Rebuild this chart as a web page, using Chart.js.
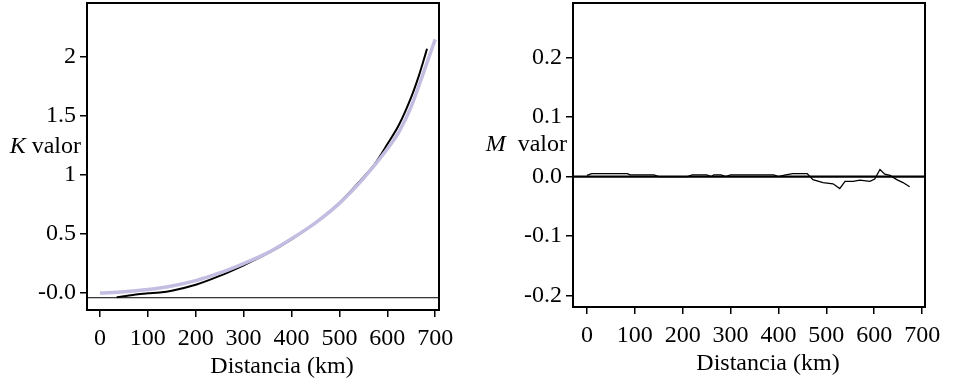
<!DOCTYPE html>
<html>
<head>
<meta charset="utf-8">
<script src="https://cdn.jsdelivr.net/npm/chart.js@4"></script>
<style>
  html, body { margin: 0; padding: 0; background: #fff; }
  .box { position: absolute; top: 0; width: 484px; height: 391px; }
  #kbox { left: 0; }
  #mbox { left: 484px; }
</style>
</head>
<body>
<div class="box" id="kbox"><canvas id="kchart"></canvas></div>
<div class="box" id="mbox"><canvas id="mchart"></canvas></div>
<script>
// K function: observed (black) and expected (grey)
var kObsDist = [35, 50, 75, 100, 125, 150, 200, 250, 300, 350, 400, 450, 500, 550, 575, 600, 625, 650, 665, 675, 683];
var kObs     = [-0.036, -0.028, -0.013, -0.003, 0.005, 0.02, 0.07, 0.145, 0.235, 0.335, 0.455, 0.595, 0.765, 0.98, 1.1, 1.26, 1.43, 1.66, 1.83, 1.96, 2.07];
var kExpDist = [0, 50, 100, 150, 200, 250, 300, 350, 400, 450, 500, 550, 600, 625, 650, 675, 700];
var kExp     = [0, 0.01, 0.03, 0.06, 0.105, 0.17, 0.25, 0.34, 0.46, 0.595, 0.76, 0.97, 1.22, 1.37, 1.58, 1.86, 2.15];
var kBase = -0.04;

// M function
var mDist = [0, 10, 85, 90, 140, 150, 210, 220, 250, 260, 265, 280, 290, 300, 390, 400, 415, 430, 460,
             472, 493, 514, 528, 539, 556, 570, 591, 601, 612, 622, 633, 647, 660, 674];
var mVal  = [0.002, 0.005, 0.005, 0.003, 0.003, 0, 0, 0.003, 0.003, 0, 0.003, 0.003, 0, 0.003, 0.003, 0, 0.003, 0.005, 0.005,
             -0.005, -0.01, -0.012, -0.02, -0.008, -0.008, -0.006, -0.008, -0.004, 0.012, 0.004, 0.002, -0.005, -0.01, -0.017];
var mBase = 0;

var xTitle = 'Distancia (km)';
var FONT = '"Liberation Serif", "Times New Roman", serif';
var FSIZE = 24;

function pts(xs, ys) {
  return xs.map(function (x, i) { return { x: x, y: ys[i] }; });
}

// frame around the plot, horizontal y title, x title
var framePlugin = {
  id: 'frame',
  afterDraw: function (chart, args, opts) {
    var ctx = chart.ctx, a = chart.chartArea;
    ctx.save();
    ctx.strokeStyle = '#000';
    ctx.lineWidth = 2;
    ctx.strokeRect(a.left, a.top, a.right - a.left, a.bottom - a.top);

    ctx.fillStyle = '#000';
    ctx.textBaseline = 'middle';
    var ty = a.top + (a.bottom - a.top) * 0.467;
    ctx.font = FSIZE + 'px ' + FONT;
    var rest = opts.gap + 'valor';
    var wRest = ctx.measureText(rest).width;
    ctx.textAlign = 'right';
    ctx.fillText(rest, a.left - 6, ty);
    ctx.font = 'italic ' + FSIZE + 'px ' + FONT;
    ctx.fillText(opts.letter, a.left - 6 - wRest, ty);

    ctx.font = FSIZE + 'px ' + FONT;
    ctx.textAlign = 'center';
    ctx.fillText(xTitle, (a.left + a.right) / 2 + 19, a.bottom + 57);
    ctx.restore();
  }
};

function axisX(min, max, h) {
  return {
    type: 'linear', min: min, max: max,
    afterFit: function (s) { s.height = h; s.paddingLeft = 0; s.paddingRight = 0; },
    border: { display: false },
    grid: { drawOnChartArea: false, drawTicks: true, tickLength: 7, color: '#000', lineWidth: 1.5 },
    ticks: { stepSize: 100, includeBounds: false, color: '#000', padding: 7, font: { family: FONT, size: FSIZE } }
  };
}

function axisY(min, max, step, w, fmt) {
  return {
    type: 'linear', min: min, max: max,
    afterFit: function (s) { s.width = w; s.paddingTop = 0; s.paddingBottom = 0; },
    border: { display: false },
    grid: { drawOnChartArea: false, drawTicks: true, tickLength: 7, color: '#000', lineWidth: 1.5 },
    ticks: { stepSize: step, includeBounds: false, color: '#000', padding: 4, font: { family: FONT, size: FSIZE }, callback: fmt }
  };
}

var kMinX = -27, kMaxX = 708;
var kCfg = {
  type: 'line',
  data: {
    datasets: [
      { data: pts(kExpDist, kExp), borderColor: '#c4bde2', borderWidth: 3.5, pointRadius: 0, cubicInterpolationMode: 'monotone', fill: false, order: 0 },
      { data: pts(kObsDist, kObs), borderColor: '#000', borderWidth: 2, pointRadius: 0, cubicInterpolationMode: 'monotone', fill: false, order: 1 },
      { data: pts([kMinX, kMaxX], [kBase, kBase]), borderColor: '#000', borderWidth: 1, pointRadius: 0, fill: false, order: 2 }
    ]
  },
  options: {
    responsive: true, maintainAspectRatio: false, animation: false,
    layout: { padding: { left: 0, right: 45, top: 3, bottom: 0 } },
    plugins: { legend: { display: false }, tooltip: { enabled: false }, frame: { letter: 'K', gap: ' ' } },
    scales: {
      x: axisX(kMinX, kMaxX, 81),
      y: axisY(-0.144, 2.458, 0.5, 87, function (v) { return v === 0 ? '-0.0' : String(v); })
    }
  },
  plugins: [framePlugin]
};

var mMinX = -29, mMaxX = 706;
var mCfg = {
  type: 'line',
  data: {
    datasets: [
      { data: pts([mMinX, mMaxX], [mBase, mBase]), borderColor: '#000', borderWidth: 2.2, pointRadius: 0, fill: false, order: 1 },
      { data: pts(mDist, mVal), borderColor: '#000', borderWidth: 1.3, pointRadius: 0, tension: 0, fill: false, order: 0 }
    ]
  },
  options: {
    responsive: true, maintainAspectRatio: false, animation: false,
    layout: { padding: { left: 0, right: 43, top: 3, bottom: 0 } },
    plugins: { legend: { display: false }, tooltip: { enabled: false }, frame: { letter: 'M', gap: '  ' } },
    scales: {
      x: axisX(mMinX, mMaxX, 84),
      y: axisY(-0.219, 0.2916, 0.1, 89, function (v) { return Math.abs(v) < 1e-9 ? '0.0' : v.toFixed(1); })
    }
  },
  plugins: [framePlugin]
};

new Chart(document.getElementById('kchart'), kCfg);
new Chart(document.getElementById('mchart'), mCfg);
</script>
</body>
</html>
